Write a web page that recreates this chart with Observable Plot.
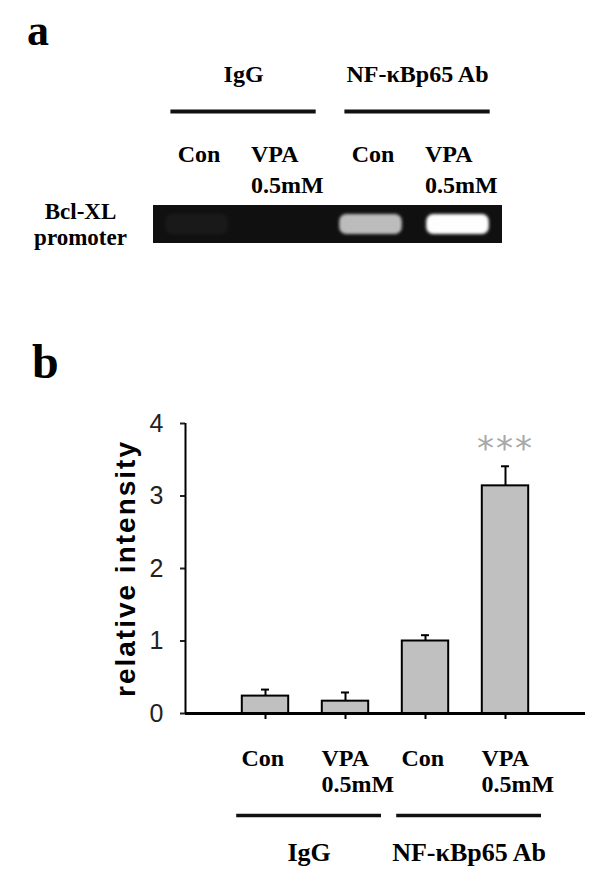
<!DOCTYPE html>
<html>
<head>
<meta charset="utf-8">
<script src="https://cdn.jsdelivr.net/npm/d3@7"></script>
<script src="https://cdn.jsdelivr.net/npm/@observablehq/plot@0.6"></script>
<style>
  html, body { margin: 0; padding: 0; background: #fff; }
  #fig { position: relative; width: 600px; height: 893px; overflow: hidden; background: #fff; }
  .panel-letter { position: absolute; font-family: "Liberation Serif", serif; font-weight: bold; line-height: 46px; color: #000; }
  #panelA, #panelB { position: absolute; left: 0; }
  #panelA { top: 0; }
  #panelB { top: 300px; }
</style>
</head>
<body>
<div id="fig">
  <div class="panel-letter" style="left:27px; top:8px; font-size:44px;">a</div>
  <div class="panel-letter" style="left:32px; top:339px; font-size:48px;">b</div>
  <div id="panelA"></div>
  <div id="panelB"></div>
</div>
<script>
// ---- data ----
const groups = ["IgG", "NF-κBp65 Ab"];
const treatments = ["Con", "VPA\n0.5mM"];
const bandSignal = [0.04, 0, 0.72, 1];         // gel band brightness per lane (panel a)
const intensity = [0.24, 0.17, 1.0, 3.14];     // relative intensity (panel b)
const errorUp = [0.09, 0.12, 0.08, 0.27];      // upper error
const significance = ["", "", "", "***"];
const yTicks = [0, 1, 2, 3, 4];
const yLabel = "relative intensity";
const gelLabel = "Bcl-XL\npromoter";

// ---- tables built from the arrays ----
const lanes = [];
groups.forEach((g, gi) => treatments.forEach((t, ti) => {
  const i = gi * treatments.length + ti;
  lanes.push({i, group: g, treatment: t, isCon: ti === 0, band: bandSignal[i],
              value: intensity[i], err: errorUp[i], sig: significance[i]});
}));
const groupSpans = groups.map((g, gi) => {
  const members = lanes.filter(d => d.group === g);
  return {name: g, first: members[0].i, last: members[members.length - 1].i};
});

const serif = "Liberation Serif";
const sans = "Liberation Sans";

// ---- panel a: gel ----
const plotA = Plot.plot({
  width: 600, height: 300,
  marginTop: 205, marginBottom: 58, marginLeft: 153, marginRight: 99,
  x: {domain: [-0.5, lanes.length - 0.5], axis: null},
  y: {domain: [0, 1], axis: null},
  marks: [
    Plot.frame({fill: "#101010", stroke: "#101010"}),
    Plot.rect(lanes, {x1: d => d.i - 0.36, x2: d => d.i + 0.36, y1: 0, y2: 1,
      insetTop: 9, insetBottom: 8, rx: 7, fill: "#fefefe", fillOpacity: d => d.band}),
    Plot.ruleY(groupSpans, {x1: d => d.first - 0.3, x2: d => d.last + 0.37, y: 1, dy: -94,
      stroke: "#111", strokeWidth: 4}),
    Plot.text(groupSpans, {x: d => (d.first + d.last) / 2 + 0.035, y: 1, dy: -141, text: "name",
      lineAnchor: "top", fontSize: 24, fontWeight: "bold", fontFamily: serif, fill: "#000"}),
    Plot.text(lanes.filter(d => d.isCon), {x: "i", y: 1, dy: -61, text: "treatment",
      lineAnchor: "top", textAnchor: "middle", dx: 2, fontSize: 24, fontWeight: "bold", fontFamily: serif, fill: "#000"}),
    Plot.text(lanes.filter(d => !d.isCon), {x: "i", y: 1, dy: -66, text: "treatment",
      lineAnchor: "top", textAnchor: "start", dx: -33, lineHeight: 1.3, fontSize: 24, fontWeight: "bold", fontFamily: serif, fill: "#000"}),
    Plot.text([gelLabel], {frameAnchor: "left", dx: -73, text: d => d, textAnchor: "middle",
      lineAnchor: "middle", lineHeight: 1.12, fontSize: 23, fontWeight: "bold", fontFamily: serif, fill: "#000"})
  ]
});
const svgA = d3.select(plotA);
svgA.append("defs").html('<filter id="gelblur" x="-20%" y="-50%" width="140%" height="200%"><feGaussianBlur stdDeviation="1.8"/></filter>');
svgA.selectAll("g").filter(function () { return this.getAttribute("fill") === "#fefefe"; })
  .attr("filter", "url(#gelblur)");
document.getElementById("panelA").appendChild(plotA);

// ---- panel b: bar chart ----
const plotB = Plot.plot({
  width: 600, height: 593,
  marginTop: 123, marginBottom: 180, marginLeft: 185, marginRight: 15,
  style: {fontFamily: sans, background: "transparent"},
  x: {domain: [-1, lanes.length], axis: null},
  y: {domain: [0, 4], axis: null},
  marks: [
    Plot.axisY({ticks: yTicks, tickSize: 5, tickPadding: 17, tickFormat: d => String(d), fontSize: 25, fontFamily: sans,
      label: null, strokeWidth: 2, color: "#222"}),
    Plot.axisX({ticks: lanes.map(d => d.i), tickSize: 6, tickFormat: () => "", label: null,
      strokeWidth: 2, color: "#000"}),
    Plot.rectY(lanes, {x1: d => d.i - 0.29, x2: d => d.i + 0.29, y1: 0, y2: "value",
      fill: "#c0c0c0", stroke: "#000", strokeWidth: 2}),
    Plot.ruleX(lanes, {x: "i", y1: "value", y2: d => d.value + d.err, stroke: "#000", strokeWidth: 2}),
    Plot.ruleY(lanes, {x1: d => d.i - 0.05, x2: d => d.i + 0.05, y: d => d.value + d.err, stroke: "#000", strokeWidth: 2}),
    Plot.ruleX([-1], {y1: 0, y2: 4, stroke: "#000", strokeWidth: 2}),
    Plot.ruleY([0], {stroke: "#000", strokeWidth: 3}),
    Plot.text(lanes.filter(d => d.sig), {x: "i", y: d => d.value + d.err, dy: -6, text: "sig",
      lineAnchor: "bottom", fontSize: 34, fontFamily: "DejaVu Sans", fill: "#a8a8a8"}),
    Plot.text([yLabel], {frameAnchor: "left", dx: -59, rotate: -90, text: d => d, textAnchor: "middle",
      fontSize: 28, fontWeight: "bold", fontFamily: sans, fill: "#000"}),
    Plot.text(lanes, {x: "i", y: 0, dy: 33, dx: -24, text: "treatment", lineAnchor: "top", textAnchor: "start",
      lineHeight: 1.12, fontSize: 24, fontWeight: "bold", fontFamily: serif, fill: "#000"}),
    Plot.ruleY(groupSpans, {x1: d => d.first - 0.36, x2: d => d.last + 0.45, y: 0, dy: 102,
      stroke: "#111", strokeWidth: 3.5}),
    Plot.text(groupSpans, {x: d => (d.first + d.last) / 2 + 0.045, y: 0, dy: 129, text: "name",
      lineAnchor: "top", fontSize: 26, fontWeight: "bold", fontFamily: serif, fill: "#000"})
  ]
});
const svgB = d3.select(plotB);
svgB.selectAll("text").filter(function () { return this.textContent === yLabel; })
  .style("letter-spacing", "2px");
svgB.selectAll("text").filter(function () { return this.textContent === "***"; })
  .style("letter-spacing", "2px");
document.getElementById("panelB").appendChild(plotB);
</script>
</body>
</html>
